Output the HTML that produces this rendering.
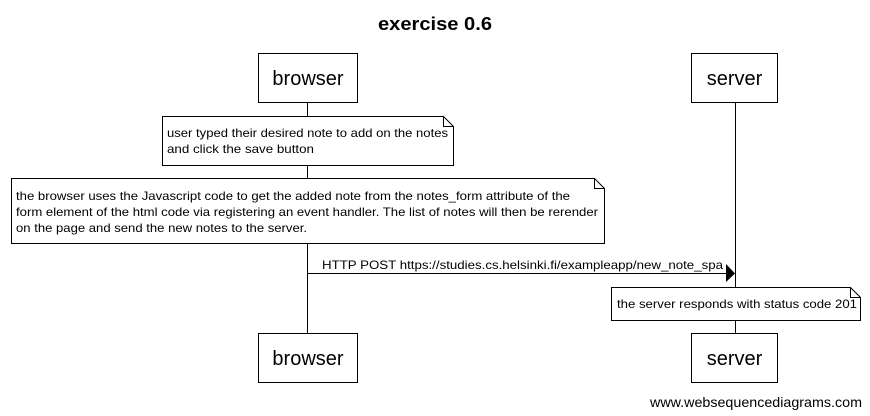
<!DOCTYPE html>
<html><head><meta charset="utf-8"><style>
html,body{margin:0;padding:0;background:#fff;}
svg{display:block;}
text{font-family:"Liberation Sans",Arial,sans-serif;fill:#000;}
</style></head><body>
<svg width="870" height="416" viewBox="0 0 870 416" xmlns="http://www.w3.org/2000/svg">
<text x="378" y="30" font-size="18" font-weight="bold" textLength="114" lengthAdjust="spacingAndGlyphs">exercise 0.6</text>
<g stroke="#000" stroke-width="1" fill="none">
<line x1="307.5" y1="102" x2="307.5" y2="333"/>
<line x1="735.5" y1="102" x2="735.5" y2="333"/>
</g>
<g stroke="#000" stroke-width="1" fill="#fff">
<rect x="258.5" y="53.5" width="99" height="49"/>
<rect x="691.5" y="53.5" width="86" height="49"/>
<rect x="258.5" y="333.5" width="99" height="49"/>
<rect x="691.5" y="333.5" width="86" height="49"/>
<path d="M162.5 116.5 H443.5 L453.5 126.5 V165.5 H162.5 Z"/>
<path d="M443.5 116.5 V126.5 H453.5" fill="none"/>
<path d="M11.5 178.5 H594.5 L604.5 188.5 V243.5 H11.5 Z"/>
<path d="M594.5 178.5 V188.5 H604.5" fill="none"/>
<path d="M611.5 287.5 H850.5 L860.5 297.5 V320.5 H611.5 Z"/>
<path d="M850.5 287.5 V297.5 H860.5" fill="none"/>
</g>
<text x="308" y="85" font-size="20" text-anchor="middle">browser</text>
<text x="734.5" y="85" font-size="20" text-anchor="middle">server</text>
<text x="308" y="365" font-size="20" text-anchor="middle">browser</text>
<text x="734.5" y="365" font-size="20" text-anchor="middle">server</text>
<g font-size="12" lengthAdjust="spacingAndGlyphs">
<text x="167" y="137" textLength="281" lengthAdjust="spacingAndGlyphs">user typed their desired note to add on the notes</text>
<text x="167" y="153" textLength="147" lengthAdjust="spacingAndGlyphs">and click the save button</text>
<text x="16" y="200" textLength="554" lengthAdjust="spacingAndGlyphs">the browser uses the Javascript code to get the added note from the notes_form attribute of the</text>
<text x="16" y="216" textLength="582" lengthAdjust="spacingAndGlyphs">form element of the html code via registering an event handler. The list of notes will then be rerender</text>
<text x="16" y="232" textLength="291" lengthAdjust="spacingAndGlyphs">on the page and send the new notes to the server.</text>
<text x="617" y="308" textLength="240" lengthAdjust="spacingAndGlyphs">the server responds with status code 201</text>
<text x="322" y="269" textLength="401" lengthAdjust="spacingAndGlyphs">HTTP POST https://studies.cs.helsinki.fi/exampleapp/new_note_spa</text>
</g>
<line x1="307.5" y1="273.5" x2="727" y2="273.5" stroke="#000" stroke-width="1"/>
<polygon points="726,264 735,273.5 726,282" fill="#000"/>
<text x="650" y="407" font-size="14" textLength="212" lengthAdjust="spacingAndGlyphs">www.websequencediagrams.com</text>
</svg>
</body></html>
